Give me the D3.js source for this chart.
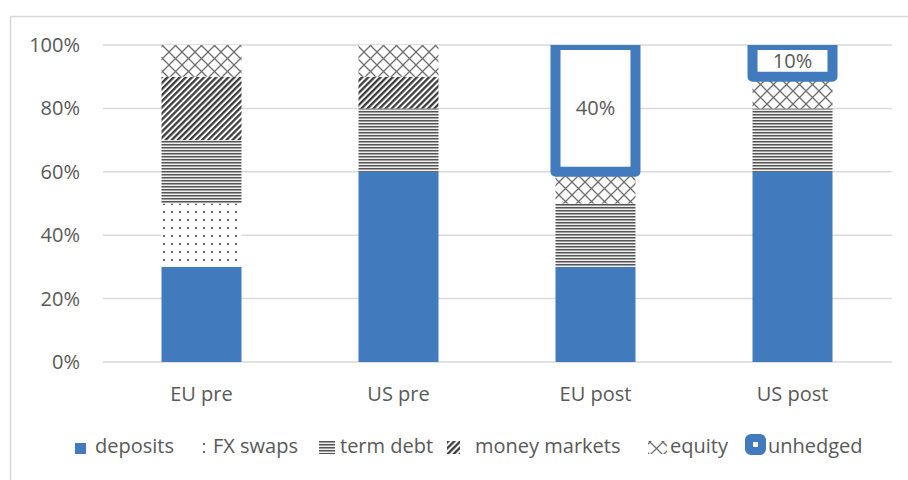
<!DOCTYPE html>
<html>
<head>
<meta charset="utf-8">
<script src="https://cdn.jsdelivr.net/npm/d3@7"></script>
<style>
  body { margin: 0; background: #fff; }
  text { font-family: "Open Sans", "Noto Sans", sans-serif; fill: #595959; }
</style>
</head>
<body>
<div id="chart"></div>
<script>
// data (percent of funding)
let categories = ["EU pre", "US pre", "EU post", "US post"]
let deposits = [30, 60, 30, 60]
let fxSwaps = [20, 0, 0, 0]
let termDebt = [20, 20, 20, 20]
let moneyMarkets = [20, 10, 0, 0]
let equity = [10, 10, 10, 10]
let unhedged = [0, 0, 40, 10]
let yTicks = [0, 20, 40, 60, 80, 100]
let seriesKeys = ["deposits", "FX swaps", "term debt", "money markets", "equity", "unhedged"]

let width = 908,
    height = 480

let blue = "#417abd"

let svg = d3.select('#chart')
  .append('svg')
    .attr('width', width)
    .attr('height', height)

// patterns for the hatched series
let defs = svg.append('defs')

let pFx = defs.append('pattern').attr('id', 'p-fx')
  .attr('patternUnits', 'userSpaceOnUse').attr('width', 8).attr('height', 8)
pFx.append('rect').attr('width', 8).attr('height', 8).attr('fill', '#fff')
pFx.append('rect').attr('x', 3).attr('y', 3).attr('width', 2).attr('height', 2).attr('fill', '#666')

let pTerm = defs.append('pattern').attr('id', 'p-term')
  .attr('patternUnits', 'userSpaceOnUse').attr('width', 4).attr('height', 3)
pTerm.append('rect').attr('width', 4).attr('height', 3).attr('fill', '#eee')
pTerm.append('rect').attr('width', 4).attr('height', 1.5).attr('fill', '#555')

let pMm = defs.append('pattern').attr('id', 'p-mm')
  .attr('patternUnits', 'userSpaceOnUse').attr('width', 4.3).attr('height', 4.3)
  .attr('patternTransform', 'rotate(45)')
pMm.append('rect').attr('width', 4.3).attr('height', 4.3).attr('fill', '#fff')
pMm.append('rect').attr('width', 2.3).attr('height', 4.3).attr('fill', '#3c3c3c')

let pEq = defs.append('pattern').attr('id', 'p-eq')
  .attr('patternUnits', 'userSpaceOnUse').attr('width', 13).attr('height', 13)
pEq.append('rect').attr('width', 13).attr('height', 13).attr('fill', '#fff')
pEq.append('path').attr('d', 'M0,0L13,13M13,0L0,13')
  .attr('stroke', '#6e6e6e').attr('stroke-width', 1.3).attr('fill', 'none')

let fills = {
  "deposits": blue,
  "FX swaps": "url(#p-fx)",
  "term debt": "url(#p-term)",
  "money markets": "url(#p-mm)",
  "equity": "url(#p-eq)"
}

// chart frame (only top and left edges are inside the picture)
svg.append('path')
  .attr('d', `M10.5,${height}V16.5H${width}`)
  .attr('fill', 'none').attr('stroke', '#d9d9d9').attr('stroke-width', 1.5)

let x = d3.scaleBand()
  .domain(categories)
  .range([103, 891])
  .paddingInner(0.594)
  .paddingOuter(0.297)

let y = d3.scaleLinear()
  .domain([0, 100])
  .range([362, 45])

// gridlines
svg.append('g')
  .selectAll('line')
  .data(yTicks)
  .join('line')
    .attr('x1', 103).attr('x2', 892)
    .attr('y1', d => y(d)).attr('y2', d => y(d))
    .attr('stroke', '#d9d9d9').attr('stroke-width', 1.5)

// y labels
svg.append('g')
  .selectAll('text')
  .data(yTicks)
  .join('text')
    .attr('x', 80)
    .attr('y', d => y(d) + 7)
    .attr('text-anchor', 'end')
    .style('font-size', '20px')
    .text(d => d + '%')

// x labels
svg.append('g')
  .selectAll('text')
  .data(categories)
  .join('text')
    .attr('x', d => x(d) + x.bandwidth() / 2)
    .attr('y', 401)
    .attr('text-anchor', 'middle')
    .style('font-size', '20px')
    .text(d => d)

// stacked bars
let rows = categories.map((c, i) => ({
  cat: c,
  "deposits": deposits[i],
  "FX swaps": fxSwaps[i],
  "term debt": termDebt[i],
  "money markets": moneyMarkets[i],
  "equity": equity[i],
  "unhedged": unhedged[i]
}))

let stacked = d3.stack().keys(seriesKeys)(rows)

defs.append('clipPath').attr('id', 'plot-clip')
  .append('rect').attr('x', 0).attr('y', y(100)).attr('width', width).attr('height', height)

let barsG = svg.append('g').attr('clip-path', 'url(#plot-clip)')

stacked.filter(s => s.key !== 'unhedged').forEach(s => {
  barsG.append('g')
    .selectAll('rect')
    .data(s.filter(d => d[1] > d[0]))
    .join('rect')
      .attr('x', d => x(d.data.cat))
      .attr('width', x.bandwidth())
      .attr('y', d => y(d[1]))
      .attr('height', d => y(d[0]) - y(d[1]))
      .attr('fill', fills[s.key])
})

// unhedged: white box with thick blue outline
let unh = stacked.find(s => s.key === 'unhedged').filter(d => d[1] > d[0])
barsG.append('g')
  .selectAll('rect')
  .data(unh)
  .join('rect')
    .attr('x', d => x(d.data.cat))
    .attr('width', x.bandwidth())
    .attr('y', d => y(d[1]))
    .attr('height', d => y(d[0]) - y(d[1]))
    .attr('fill', '#fff')
    .attr('stroke', blue)
    .attr('stroke-width', 10)
    .attr('stroke-linejoin', 'round')

svg.append('g')
  .selectAll('text')
  .data(unh)
  .join('text')
    .attr('x', d => x(d.data.cat) + x.bandwidth() / 2)
    .attr('y', d => y((d[0] + d[1]) / 2) + 7)
    .attr('text-anchor', 'middle')
    .style('font-size', '20px')
    .text(d => (d[1] - d[0]) + '%')

// legend: swatch left edges, swatch sizes and text offsets
let legendX = [75, 197, 319, 447, 648, 745]
let swatchW = [11, 11, 16, 13, 19, 21]
let textX = [95, 213, 340, 475, 670, 768]
let ly = 453

let legend = svg.append('g')
seriesKeys.forEach((k, i) => {
  let g = legend.append('g')
  let lx = legendX[i], w = swatchW[i]
  if (k === 'unhedged') {
    g.append('rect')
      .attr('x', lx + 4).attr('y', ly - 15)
      .attr('width', 13).attr('height', 13)
      .attr('rx', 2)
      .attr('fill', '#fff').attr('stroke', blue).attr('stroke-width', 8)
  } else {
    g.append('rect')
      .attr('x', lx).attr('y', ly - 10 - (w > 11 ? 2 : 0))
      .attr('width', w).attr('height', w > 11 ? 13 : 11)
      .attr('fill', fills[k])
  }
  g.append('text')
    .attr('x', textX[i])
    .attr('y', ly)
    .style('font-size', '20px')
    .text(k)
})
</script>
</body>
</html>
